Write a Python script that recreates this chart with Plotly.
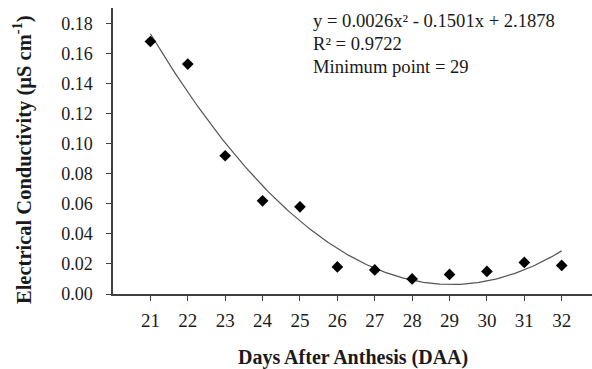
import numpy as np
import plotly.graph_objects as go

days = [21, 22, 23, 24, 25, 26, 27, 28, 29, 30, 31, 32]
ec = [0.168, 0.153, 0.092, 0.062, 0.058, 0.018, 0.016, 0.010, 0.013, 0.015, 0.021, 0.019]
y_ticks = [0.00, 0.02, 0.04, 0.06, 0.08, 0.10, 0.12, 0.14, 0.16, 0.18]
eq_lines = ["y = 0.0026x² - 0.1501x + 2.1878", "R² = 0.9722", "Minimum point = 29"]

coef = np.polyfit(days, ec, 2)
xf = np.linspace(min(days), max(days), 200)
yf = np.polyval(coef, xf)

FONT = "Liberation Serif, Times New Roman, serif"

fig = go.Figure()
fig.add_trace(go.Scatter(x=xf, y=yf, mode="lines", line=dict(color="#555555", width=1.2),
                         hoverinfo="skip", showlegend=False))
fig.add_trace(go.Scatter(x=days, y=ec, mode="markers",
                         marker=dict(symbol="diamond", size=9, color="black"),
                         showlegend=False))

fig.update_layout(
    width=592, height=369,
    margin=dict(l=113, r=0, t=8, b=75),
    paper_bgcolor="white", plot_bgcolor="white",
    font=dict(family=FONT, size=18, color="#1a1a1a"),
    xaxis=dict(range=[20, 32.81], tickvals=days, ticks="outside", ticklen=5,
               tickcolor="#404040", showline=True, linecolor="#404040", linewidth=1.5,
               showgrid=False, zeroline=False, ticklabelstandoff=3,
               tickfont=dict(size=19)),
    yaxis=dict(range=[0, 0.1903], tickvals=y_ticks, tickformat=".2f", ticks="outside",
               ticklen=5, tickcolor="#404040", showline=True, linecolor="#404040",
               linewidth=1.5, showgrid=False, zeroline=False, ticklabelstandoff=10),
)

for i, t in enumerate(eq_lines):
    fig.add_annotation(text=t, xref="paper", yref="paper", x=(311 - 113) / 479,
                       y=1 - (20 + 23.5 * i - 8) / 286, xanchor="left", yanchor="middle",
                       showarrow=False, font=dict(size=18.6))

fig.add_annotation(text="<b>Days After Anthesis (DAA)</b>", xref="paper", yref="paper",
                   x=0.5, y=-(357 - 294) / 286, xanchor="center", yanchor="middle",
                   showarrow=False, font=dict(size=20))
fig.add_annotation(text="<b>Electrical Conductivity (µS cm<sup>-1</sup>)</b>", xref="paper",
                   yref="paper", x=-(113 - 22) / 479, y=1 - (160 - 8) / 286,
                   xanchor="center", yanchor="middle", textangle=-90,
                   showarrow=False, font=dict(size=20.5))

fig.write_html("out.html")
